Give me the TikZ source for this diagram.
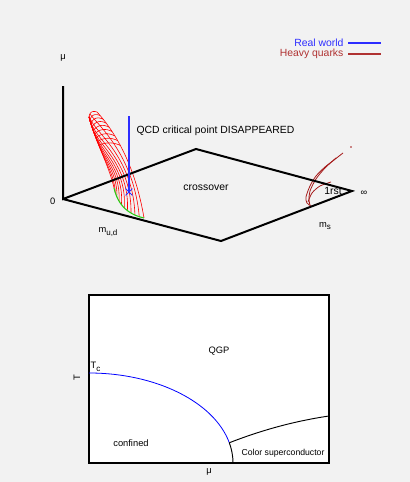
\documentclass[tikz,border=0pt]{standalone}
\usepackage{fontspec}
\setmainfont{Liberation Sans}
\usetikzlibrary{shapes.misc}
\definecolor{bgray}{HTML}{F2F2F2}
\definecolor{realblue}{RGB}{45,45,255}
\definecolor{heavyred}{RGB}{176,50,50}
\definecolor{darkred}{RGB}{165,25,25}
\definecolor{lgreen}{RGB}{40,205,20}
\newcommand{\lowidx}[1]{\raisebox{-0.5ex}{\fontsize{6}{6}\selectfont #1}}
\tikzset{
  axisline/.style = {line width=1.5pt},
  surf/.style     = {red, line width=0.45pt},
  hq/.style       = {darkred, line width=0.6pt},
  lbl/.style      = {font=\fontsize{7.8}{9}\selectfont, inner sep=1pt},
  small/.style    = {font=\fontsize{7}{8}\selectfont, inner sep=1pt},
  tiny/.style     = {font=\fontsize{6.5}{7}\selectfont, inner sep=1pt},
  declare function = {
    bz(\a,\b,\c,\d,\t) = (1-\t)^3*\a+3*(1-\t)^2*\t*\b+3*(1-\t)*\t^2*\c+\t^3*\d;
    lx(\t) = bz(89,94,110,114,\t);  ly(\t) = bz(117,138,168,188,\t);
    rx(\t) = bz(97,118,136,144,\t); ry(\t) = bz(112,135,170,218,\t);
    wv(\u,\v) = \v^(1+12*(1-\u)^3);
    bk(\u,\v) = 4*\v*(1-\v)*(0.3*(1-\u)-0.16*\u);
    sx(\u,\v) = (1-\v)*lx(\u)+\v*rx(\u)+bk(\u,\v)*(ry(\u)-ly(\u));
    sy(\u,\v) = (1-\v)*ly(\u)+\v*ry(\u)-bk(\u,\v)*(rx(\u)-lx(\u));
  },
}
\begin{document}
\begin{tikzpicture}[x=0.75pt,y=-0.75pt]
\fill[bgray] (0,0) rectangle (410,482);
\useasboundingbox (0,0) rectangle (410,482);
\coordinate (top) at (63,86);
\coordinate (o) at (63,199);
\coordinate (pa) at (196,149);
\coordinate (pb) at (352,191);
\coordinate (pc) at (221,241);
\coordinate (cp) at (129,192);
\coordinate (cptop) at (129,116);
\foreach \v in {0,0.1,...,1.01}
  \draw[surf] plot[variable=\u,domain=0:1,samples=30,smooth] ({sx(\u,wv(\u,\v))},{sy(\u,wv(\u,\v))});
\foreach \u in {0,0.05,...,0.41}
  \draw[surf] plot[variable=\v,domain=0:1,samples=9,smooth] ({sx(\u,\v)},{sy(\u,\v)});
\draw[lgreen,line width=0.8pt] plot[variable=\v,domain=0:1,samples=12,smooth] ({sx(1,\v)},{sy(1,\v)});
\draw[hq] plot[smooth] coordinates {(343,153) (334,160) (325,167) (316,176) (310,186) (306,197) (307,203) (311,206)};
\draw[hq] plot[smooth] coordinates {(336,158) (325,168) (316,179) (310,191) (309,200) (310,205)};
\draw[hq] plot[smooth] coordinates {(308,202) (312,193) (320,186) (331,182)};
\fill[darkred] (351,147) circle (0.8);
\draw[axisline] (top) -- (o) -- (pa) -- (pb) -- (pc) -- (o);
\draw[realblue,line width=1.3pt] (cptop) -- (cp);
\node[realblue,draw,cross out,line width=0.6pt,minimum size=4.5pt,inner sep=0pt] (cpx) at (cp) {};
\node[small] (mu3) at (63,58) {μ};
\node[small,anchor=east] (zero) at (57,201) {0};
\node[small] (mud) at (108,232) {m\lowidx{u,d}};
\node[small] (ms) at (325,226) {m\lowidx{s}};
\node[small] (inf) at (364,193) {∞};
\node[lbl] (first) at (333,191) {1rst};
\node[lbl] (cross) at (206,188) {crossover};
\node[lbl,anchor=west] (qcd) at (135,131) {QCD critical point DISAPPEARED};
\node[lbl,anchor=east,realblue] (real) at (345,43) {Real world};
\node[lbl,anchor=east,heavyred] (heavy) at (345,54) {Heavy quarks};
\draw[realblue,line width=0.8pt] (348,43) -- (381,43);
\draw[heavyred,line width=0.8pt] (348,54) -- (381,54);
\draw[fill=white,line width=0.8pt] (89,295) rectangle (329,463);
\coordinate (tc) at (89,373);
\draw[blue,line width=0.6pt] (tc) arc[start angle=-90,end angle=-13,x radius=144,y radius=90] coordinate (cs);
\draw[line width=0.7pt] (cs) arc[start angle=-13,end angle=0,x radius=144,y radius=90];
\draw[line width=0.7pt] (cs) .. controls (262,430) and (295,421) .. (329,416);
\node[small,anchor=south west] (tclbl) at (89,373) {T\lowidx{c}};
\node[small] (qgp) at (219,351) {QGP};
\node[small] (conf) at (131,443) {confined};
\node[tiny] (csc) at (283,453) {Color superconductor};
\node[small,rotate=90] (tlbl) at (77,378) {T};
\node[small] (mu) at (209,472) {μ};
\end{tikzpicture}
\end{document}
